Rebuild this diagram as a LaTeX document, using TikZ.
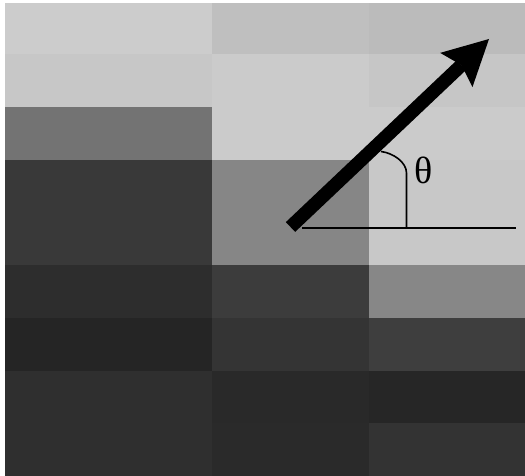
\documentclass[tikz,border=0pt]{standalone}
\usepackage{fontspec}
\setmainfont{Liberation Serif}
\usetikzlibrary{arrows.meta}
\definecolor{gA}{gray}{0.80}
\definecolor{gB}{gray}{0.78}
\definecolor{gC}{gray}{0.45}
\definecolor{gD}{gray}{0.225}
\definecolor{gE}{gray}{0.176}
\definecolor{gF}{gray}{0.145}
\definecolor{gG}{gray}{0.184}
\definecolor{hA}{gray}{0.75}
\definecolor{hB}{gray}{0.796}
\definecolor{hC}{gray}{0.525}
\definecolor{hD}{gray}{0.235}
\definecolor{hE}{gray}{0.204}
\definecolor{hF}{gray}{0.161}
\definecolor{hG}{gray}{0.165}
\definecolor{kA}{gray}{0.733}
\definecolor{kB}{gray}{0.776}
\definecolor{kC}{gray}{0.796}
\definecolor{kD}{gray}{0.784}
\definecolor{kE}{gray}{0.53}
\definecolor{kF}{gray}{0.243}
\definecolor{kG}{gray}{0.149}
\definecolor{kH}{gray}{0.20}
\begin{document}
\begin{tikzpicture}[x=1pt,y=-1pt,
  thin/.style={line width=1.6pt,black},
  vec/.style={line width=13.5pt,black,-{Stealth[length=45pt,width=47pt,inset=7pt,line width=0pt]}}]
\useasboundingbox (0,0) rectangle (525,476);
\fill[white] (0,0) rectangle (525,476);
% column 1
\fill[gA] (5,3.5) rectangle (212,54);
\fill[gB] (5,54) rectangle (212,107);
\fill[gC] (5,107) rectangle (212,160);
\fill[gD] (5,160) rectangle (212,265);
\fill[gE] (5,265) rectangle (212,318);
\fill[gF] (5,318) rectangle (212,371);
\fill[gG] (5,371) rectangle (212,476);
% column 2
\fill[hA] (212,3.5) rectangle (369,54);
\fill[hB] (212,54) rectangle (369,160);
\fill[hC] (212,160) rectangle (369,265);
\fill[hD] (212,265) rectangle (369,318);
\fill[hE] (212,318) rectangle (369,371);
\fill[hF] (212,371) rectangle (369,423);
\fill[hG] (212,423) rectangle (369,476);
% column 3
\fill[kA] (369,3.5) rectangle (525,54);
\fill[kB] (369,54) rectangle (525,107);
\fill[kC] (369,107) rectangle (525,160);
\fill[kD] (369,160) rectangle (525,265);
\fill[kE] (369,265) rectangle (525,318);
\fill[kF] (369,318) rectangle (525,371);
\fill[kG] (369,371) rectangle (525,423);
\fill[kH] (369,423) rectangle (525,476);
% angle
\coordinate (base) at (302,227.7);
\coordinate (far) at (516,227.7);
\coordinate (foot) at (406.5,227.7);
\coordinate (knee) at (406.5,173);
\coordinate (meet) at (381,151.5);
\draw[thin] (base) -- (far);
\draw[thin] (foot) -- (knee) .. controls (406.5,162) and (393,153) .. (meet);
\node[inner sep=0pt,font=\fontsize{38}{40}\selectfont] (theta) at (423.5,170.5) {θ};
% vector
\coordinate (tail) at (290.5,227);
\coordinate (tip) at (489,39);
\draw[vec] (tail) -- (tip);
\end{tikzpicture}
\end{document}
